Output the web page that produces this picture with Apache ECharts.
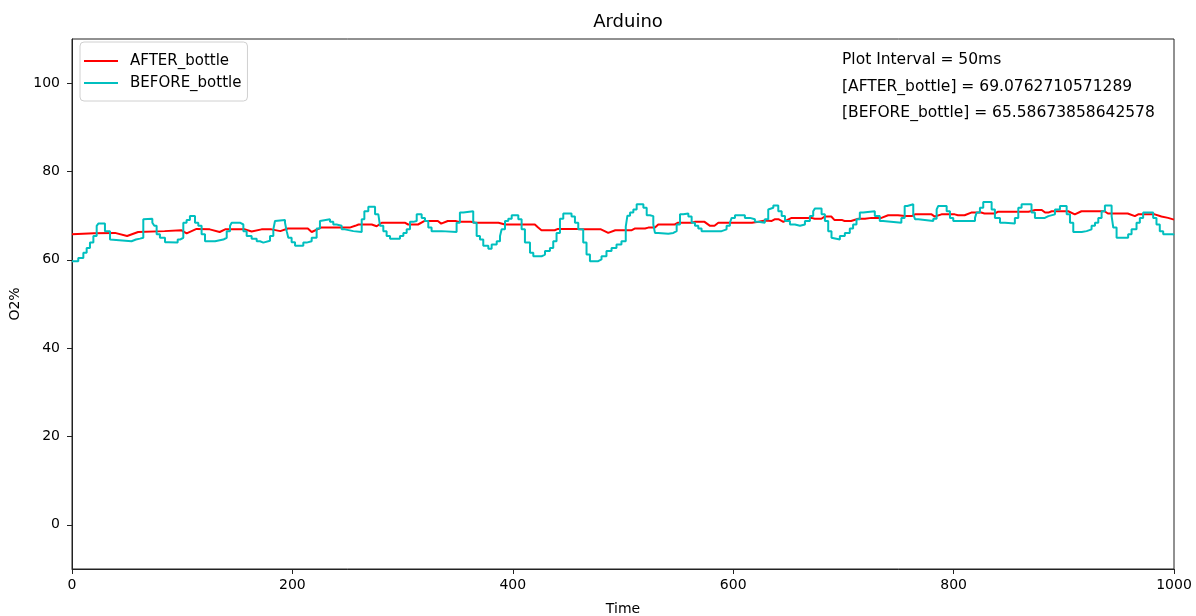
<!DOCTYPE html>
<html>
<head>
<meta charset="utf-8">
<title>Arduino</title>
<script src="https://cdn.jsdelivr.net/npm/echarts@6.0.0/dist/echarts.min.js"></script>
<style>
  html, body { margin: 0; padding: 0; background: #fff; }
  #main { width: 1196px; height: 616px; }
</style>
</head>
<body>
<div id="main"></div>
<script>
// O2% readings, [time, value]
var afterBottle = [
  [0,65.8],[20,66.0],[39,66.1],[50,65.4],[60,66.3],[84,66.5],[99,66.7],[104,66.0],[113,67.0],[125,66.9],
  [134,66.3],[139,66.9],[157,66.9],[163,66.4],[172,66.9],[181,66.9],[189,66.5],[196,67.1],[214,67.1],[217.5,66.3],
  [226,67.3],[236,67.3],[252,67.3],[257,67.7],[260,68.0],[272,68.0],[276.5,67.6],[281,68.4],[302,68.4],[305,68.0],
  [314,68.0],[320,68.8],[332,68.8],[335,68.2],[341,68.8],[348,68.8],[351,68.6],[362,68.6],[366,68.4],[387,68.4],
  [393,68.0],[420,68.0],[423,67.3],[426,66.7],[438,66.7],[441,67.0],[459,67.0],[462,66.9],[480,66.9],[486.6,66.1],
  [493,66.7],[508,66.7],[511,67.1],[520,67.1],[523,67.3],[529,67.3],[532,68.0],[547,68.0],[550,68.4],[562,68.4],
  [565,68.6],[574,68.6],[579,67.7],[583,67.7],[586.5,68.4],[605,68.4],[617,68.4],[623,68.6],[629,68.9],[635,68.8],
  [638,69.2],[641,69.2],[645.5,68.6],[653,69.5],[671,69.5],[674,69.3],[680,69.3],[683,69.8],[689,69.8],[692,69.0],
  [699,69.0],[701,68.8],[707,68.8],[713.5,69.3],[719.5,69.3],[725.5,69.5],[734.5,69.5],[740.6,70.1],[749.6,70.1],[756,69.9],
  [762,69.9],[765,70.3],[780,70.3],[783,69.8],[789,70.3],[801,70.3],[804,70.1],[810,70.1],[816,70.7],[825,70.7],
  [828,70.5],[837.5,70.5],[840.5,70.9],[868,70.9],[874,71.3],[880,71.3],[883,70.7],[886,70.7],[889,71.0],[904,71.0],
  [910,70.3],[916,71.0],[937,71.0],[940,70.5],[958,70.5],[964.5,69.9],[967.5,70.3],[982.6,70.3],[988.6,69.8],[994.6,69.5],
  [1000,69.1]
];

var beforeBottle = [
  [0,59.7],[5.7,60.4],[10.3,61.6],[13.3,62.7],[16.3,63.9],[19.4,65.4],[22.4,67.7],[23.9,68.2],[29.9,66.5],[34.5,64.6],
  [36,64.2],[54,64.6],[58,64.8],[61.7,65.0],[64.7,69.2],[66.2,69.3],[72.9,68.4],[74.7,67.7],[76.8,65.8],[79.8,65.0],
  [84.4,64.0],[87.4,63.9],[95.9,64.6],[98,65.0],[101,68.4],[104,69.0],[107,69.9],[111.6,68.4],[114.6,67.7],[117.6,65.8],
  [120.7,64.2],[129.8,64.6],[137.3,65.0],[140.4,66.5],[143.4,67.7],[144.9,68.4],[152.4,68.0],[155.5,66.5],[158.5,65.4],[163,64.8],
  [167.6,64.2],[170.6,63.9],[173.6,64.3],[179.7,65.4],[182.7,66.9],[184.2,68.8],[185.7,69.0],[193.3,68.4],[194.8,66.5],[196.3,65.0],
  [199.3,64.0],[202.4,63.2],[209.9,63.9],[212.9,64.2],[217.5,65.0],[222,67.1],[225,68.8],[226.5,69.2],[234.1,68.6],[237.1,68.0],
  [240.1,67.7],[244.7,66.9],[247.7,66.5],[255.3,66.3],[262.9,69.2],[265.3,71.0],[268.9,72.0],[275,70.3],[278,70.1],[279.5,67.7],
  [282.5,66.5],[285.5,65.4],[288.6,64.8],[297.6,65.4],[300.7,66.1],[303.7,66.9],[306.7,68.6],[309.7,68.8],[312.8,70.3],[317.3,69.5],
  [320.3,68.8],[323.3,67.3],[326.3,66.5],[335.4,66.3],[349,68.4],[352,70.7],[355.1,71.0],[364.1,68.4],[367.2,65.4],[370.2,64.6],
  [373.2,63.2],[377.8,62.5],[380.8,63.5],[385.4,64.2],[388.4,65.4],[389.9,66.9],[392.9,68.8],[395.9,69.3],[399,70.1],[405,69.2],
  [408,66.9],[411,63.9],[415.6,61.6],[418.6,60.8],[426.1,61.2],[429.2,62.0],[433.7,62.7],[436.7,64.2],[439.7,66.1],[442.8,69.3],
  [445.8,70.5],[453.3,69.8],[456.4,68.4],[459.4,66.9],[463.9,63.9],[466.9,61.2],[470,59.7],[477.5,60.1],[480.5,60.8],[485,62.0],
  [489.6,62.7],[494.1,63.5],[498.6,64.2],[502.5,67.5],[504,70.0],[506.4,70.7],[509.4,71.4],[512.4,72.6],[518.5,71.8],[521.5,70.1],
  [524.5,69.9],[527.5,68.0],[529,66.1],[532,65.9],[541.1,66.1],[545.7,66.5],[548.7,68.0],[551.7,70.3],[554.7,70.5],[559.3,69.8],
  [562.3,68.4],[565.3,67.7],[568.3,67.1],[571.3,66.5],[589.5,66.9],[594,67.7],[597,68.4],[598.6,69.5],[601.6,70.1],[610.6,69.5],
  [615.2,69.2],[619.7,68.6],[622.7,68.4],[628.7,69.2],[631.8,71.4],[633.5,71.8],[636.4,72.3],[640.9,71.0],[644,69.9],[647,68.8],
  [651.5,68.0],[656,67.7],[660.6,68.0],[665.1,68.8],[669.6,69.9],[672.6,71.0],[674.1,71.6],[680.2,70.3],[683.2,68.8],[686.2,66.5],
  [689.2,65.0],[690.7,64.6],[696.8,65.4],[701.3,66.1],[705.8,67.1],[708.8,68.0],[711.9,69.2],[714.9,70.7],[717.9,71.0],[728.5,69.9],
  [733,68.8],[736,68.4],[752.6,69.5],[755.6,72.2],[758,72.6],[763.4,70.3],[765,69.2],[768,68.8],[781.6,69.3],[784.6,71.4],
  [786.1,72.2],[793.7,71.0],[796.7,69.5],[799.7,68.8],[819.4,69.5],[820.9,70.7],[823.9,71.8],[826.9,73.1],[834.5,71.4],[837.5,69.5],
  [842.1,68.4],[846.6,68.2],[855.6,69.5],[858.7,71.8],[861.7,72.6],[870.7,70.7],[873.8,69.5],[882.8,69.9],[886,70.3],[892,71.4],
  [896.5,72.2],[902.6,70.3],[905.6,68.4],[908.6,66.3],[916.2,66.5],[920.7,66.9],[925.2,67.7],[928.3,68.4],[931.3,69.5],[934.3,71.0],
  [937.3,72.3],[943.4,69.9],[944.9,67.3],[947.9,65.0],[958.4,65.8],[961.5,66.9],[966,68.4],[969,69.5],[972,70.7],[981.1,69.5],
  [984.1,68.0],[987.1,66.5],[990.2,65.8],[999.2,65.6],[1000,65.6]
];

var yTicks = [0, 20, 40, 60, 80, 100];
var infoLines = [
  'Plot Interval = 50ms',
  '[AFTER_bottle] = 69.0762710571289',
  '[BEFORE_bottle] = 65.58673858642578'
];

var FONT = 'DejaVu Sans';
var chart = echarts.init(document.getElementById('main'));

var option = {
  backgroundColor: '#fff',
  animation: false,
  textStyle: { fontFamily: FONT, color: '#000' },
  title: {
    text: 'Arduino',
    left: 623,
    top: 8,
    textAlign: 'center',
    textStyle: { fontFamily: FONT, fontSize: 18, fontWeight: 'normal', color: '#000' }
  },
  grid: {
    left: 72, right: 22, top: 39, bottom: 47,
    outerBoundsMode: 'none',
    show: true, borderColor: '#222', borderWidth: 1
  },
  legend: {
    orient: 'vertical',
    left: 80, top: 42,
    padding: [10, 6, 9, 4],
    itemWidth: 34, itemHeight: 2, itemGap: 4,
    borderColor: '#d0d0d0', borderWidth: 1, borderRadius: 4,
    backgroundColor: 'rgba(255,255,255,0.8)',
    textStyle: { fontFamily: FONT, fontSize: 15, color: '#000', padding: [0, 0, 0, 7], lineHeight: 18 },
    data: [
      { name: 'AFTER_bottle', icon: 'rect' },
      { name: 'BEFORE_bottle', icon: 'rect' }
    ]
  },
  xAxis: {
    type: 'value',
    min: 0, max: 1000, interval: 200,
    name: 'Time',
    nameLocation: 'middle',
    nameGap: 33,
    nameTextStyle: { fontFamily: FONT, fontSize: 14, color: '#000' },
    axisLine: { show: true, onZero: false, lineStyle: { color: '#222', width: 1 } },
    axisTick: { show: true, length: 5, lineStyle: { color: '#222' } },
    axisLabel: { fontFamily: FONT, fontSize: 14, color: '#000', margin: 9, formatter: function (v) { return String(v); } },
    splitLine: { show: false }
  },
  yAxis: {
    type: 'value',
    min: -10, max: 110,
    name: 'O2%',
    nameLocation: 'middle',
    nameGap: 45,
    nameTextStyle: { fontFamily: FONT, fontSize: 14, color: '#000' },
    axisLine: { show: true, onZero: false, lineStyle: { color: '#222', width: 1 } },
    axisTick: { show: true, length: 5, customValues: yTicks, lineStyle: { color: '#222' } },
    axisLabel: { fontFamily: FONT, fontSize: 14, color: '#000', margin: 12, customValues: yTicks },
    splitLine: { show: false }
  },
  graphic: infoLines.map(function (s, i) {
    return {
      type: 'text',
      left: 842,
      top: 52 + i * 26.6,
      style: { text: s, font: '15.5px "DejaVu Sans"', fill: '#000' }
    };
  }),
  series: [
    {
      name: 'AFTER_bottle',
      type: 'line',
      symbol: 'none',
      data: afterBottle,
      color: '#ff0000',
      lineStyle: { color: '#ff0000', width: 2 }
    },
    {
      name: 'BEFORE_bottle',
      type: 'line',
      step: 'end',
      symbol: 'none',
      data: beforeBottle,
      color: '#00bfbf',
      lineStyle: { color: '#00bfbf', width: 2 }
    }
  ]
};

chart.setOption(option);
</script>
</body>
</html>
